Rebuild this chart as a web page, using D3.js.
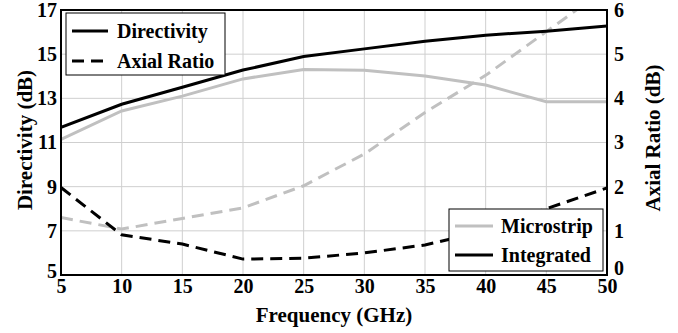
<!DOCTYPE html>
<html>
<head>
<meta charset="utf-8">
<script src="https://cdn.jsdelivr.net/npm/d3@7"></script>
<style>
  body { margin: 0; background: #fff; }
  text { font-family: "Liberation Serif", "Times New Roman", serif; font-weight: bold; }
</style>
</head>
<body>
<div id="chart"></div>
<script>
const freq = [5, 10, 15, 20, 25, 30, 35, 40, 45, 50];
const dirMicrostrip = [11.14, 12.43, 13.1, 13.88, 14.31, 14.27, 14.01, 13.6, 12.85, 12.85];
const dirIntegrated = [11.69, 12.73, 13.5, 14.28, 14.89, 15.24, 15.58, 15.86, 16.04, 16.28];
const arMicrostrip = [1.3, 1.04, 1.28, 1.52, 2.02, 2.74, 3.68, 4.52, 5.51, 6.5];
const arIntegrated = [1.98, 0.91, 0.7, 0.36, 0.38, 0.5, 0.68, 1.0, 1.5, 1.97];
const xTicks = [5, 10, 15, 20, 25, 30, 35, 40, 45, 50];
const yLeftTicks = [5, 7, 9, 11, 13, 15, 17];
const yRightTicks = [0, 1, 2, 3, 4, 5, 6];

const width = 678, height = 333;
const margin = {top: 10, right: 71, bottom: 58, left: 61};
const w = width - margin.left - margin.right;
const h = height - margin.top - margin.bottom;

const gray = "#c0c0c0";
const font = "'Liberation Serif', 'Times New Roman', serif";

const svg = d3.select("#chart").append("svg")
    .attr("width", width)
    .attr("height", height);

const g = svg.append("g")
    .attr("transform", "translate(" + margin.left + "," + margin.top + ")");

const x = d3.scaleLinear().domain([5, 50]).range([0, w]);
const yL = d3.scaleLinear().domain([5, 17]).range([h, 0]);
const yR = d3.scaleLinear().domain([0, 6]).range([h, 0]);

// grid
g.selectAll(".vgrid")
    .data(xTicks.slice(1, -1))
    .enter().append("line")
    .attr("x1", d => x(d)).attr("x2", d => x(d))
    .attr("y1", 0).attr("y2", h)
    .attr("stroke", "#cfcfcf").attr("stroke-width", 1);
g.selectAll(".hgrid")
    .data(yLeftTicks.slice(1, -1))
    .enter().append("line")
    .attr("x1", 0).attr("x2", w)
    .attr("y1", d => yL(d)).attr("y2", d => yL(d))
    .attr("stroke", "#cfcfcf").attr("stroke-width", 1);

g.append("clipPath").attr("id", "clip")
  .append("rect").attr("width", w).attr("height", h);

const lineL = d3.line().x((d, i) => x(freq[i])).y(d => yL(d));
const lineR = d3.line().x((d, i) => x(freq[i])).y(d => yR(d));

const plot = g.append("g").attr("clip-path", "url(#clip)");

plot.append("path").datum(dirMicrostrip)
    .attr("d", lineL).attr("fill", "none")
    .attr("stroke", gray).attr("stroke-width", 3);
plot.append("path").datum(arMicrostrip)
    .attr("d", lineR).attr("fill", "none")
    .attr("stroke", gray).attr("stroke-width", 3)
    .attr("stroke-dasharray", "12,7");
plot.append("path").datum(dirIntegrated)
    .attr("d", lineL).attr("fill", "none")
    .attr("stroke", "#000").attr("stroke-width", 3);
plot.append("path").datum(arIntegrated)
    .attr("d", lineR).attr("fill", "none")
    .attr("stroke", "#000").attr("stroke-width", 3)
    .attr("stroke-dasharray", "12,7");

// frame
g.append("rect")
    .attr("width", w).attr("height", h)
    .attr("fill", "none").attr("stroke", "#000").attr("stroke-width", 2);

// axes
const xAxis = g.append("g")
    .attr("transform", "translate(0," + h + ")")
    .call(d3.axisBottom(x).tickValues(xTicks).tickSize(0).tickPadding(6));
const leftAxis = g.append("g")
    .call(d3.axisLeft(yL).tickValues(yLeftTicks).tickSize(0).tickPadding(4));
const rightAxis = g.append("g")
    .attr("transform", "translate(" + w + ",0)")
    .call(d3.axisRight(yR).tickValues(yRightTicks).tickFormat(d3.format("d")).tickSize(0).tickPadding(7));

[xAxis, leftAxis, rightAxis].forEach(a => {
  a.select(".domain").remove();
  a.selectAll("text")
    .style("font-family", font)
    .style("font-weight", "bold")
    .style("font-size", "20px")
    .attr("fill", "#000");
});
leftAxis.selectAll("text").filter(d => d === 5).attr("dy", "0.1em");
rightAxis.selectAll("text").filter(d => d === 0).attr("dy", "-0.05em");
xAxis.selectAll("text").attr("dy", "0.62em");

// axis titles
svg.append("text")
    .attr("x", margin.left + w / 2).attr("y", 322)
    .attr("text-anchor", "middle")
    .style("font-size", "21px")
    .text("Frequency (GHz)");
svg.append("text")
    .attr("transform", "translate(32,140) rotate(-90)")
    .attr("text-anchor", "middle")
    .style("font-size", "21px")
    .text("Directivity (dB)");
svg.append("text")
    .attr("transform", "translate(660,138) rotate(-90)")
    .attr("text-anchor", "middle")
    .style("font-size", "21px")
    .text("Axial Ratio (dB)");

// legend: line style
const leg1 = svg.append("g").attr("transform", "translate(66,13)");
leg1.append("rect").attr("width", 159).attr("height", 62)
    .attr("fill", "#fff").attr("stroke", "#000").attr("stroke-width", 1);
const styleItems = [{name: "Directivity", dash: null}, {name: "Axial Ratio", dash: "12,7"}];
styleItems.forEach((d, i) => {
  const cy = 18 + i * 30;
  leg1.append("line")
      .attr("x1", 6).attr("x2", 42).attr("y1", cy).attr("y2", cy)
      .attr("stroke", "#000").attr("stroke-width", 3)
      .attr("stroke-dasharray", d.dash);
  leg1.append("text")
      .attr("x", 51).attr("y", cy).attr("dy", "0.35em")
      .style("font-size", "20px")
      .text(d.name);
});

// legend: antenna
const leg2 = svg.append("g").attr("transform", "translate(449,209)");
leg2.append("rect").attr("width", 154).attr("height", 62)
    .attr("fill", "#fff").attr("stroke", "#000").attr("stroke-width", 1);
const antItems = [{name: "Microstrip", color: gray}, {name: "Integrated", color: "#000"}];
antItems.forEach((d, i) => {
  const cy = 17 + i * 29;
  leg2.append("line")
      .attr("x1", 6).attr("x2", 44).attr("y1", cy).attr("y2", cy)
      .attr("stroke", d.color).attr("stroke-width", 3);
  leg2.append("text")
      .attr("x", 52).attr("y", cy).attr("dy", "0.35em")
      .style("font-size", "20px")
      .text(d.name);
});
</script>
</body>
</html>
